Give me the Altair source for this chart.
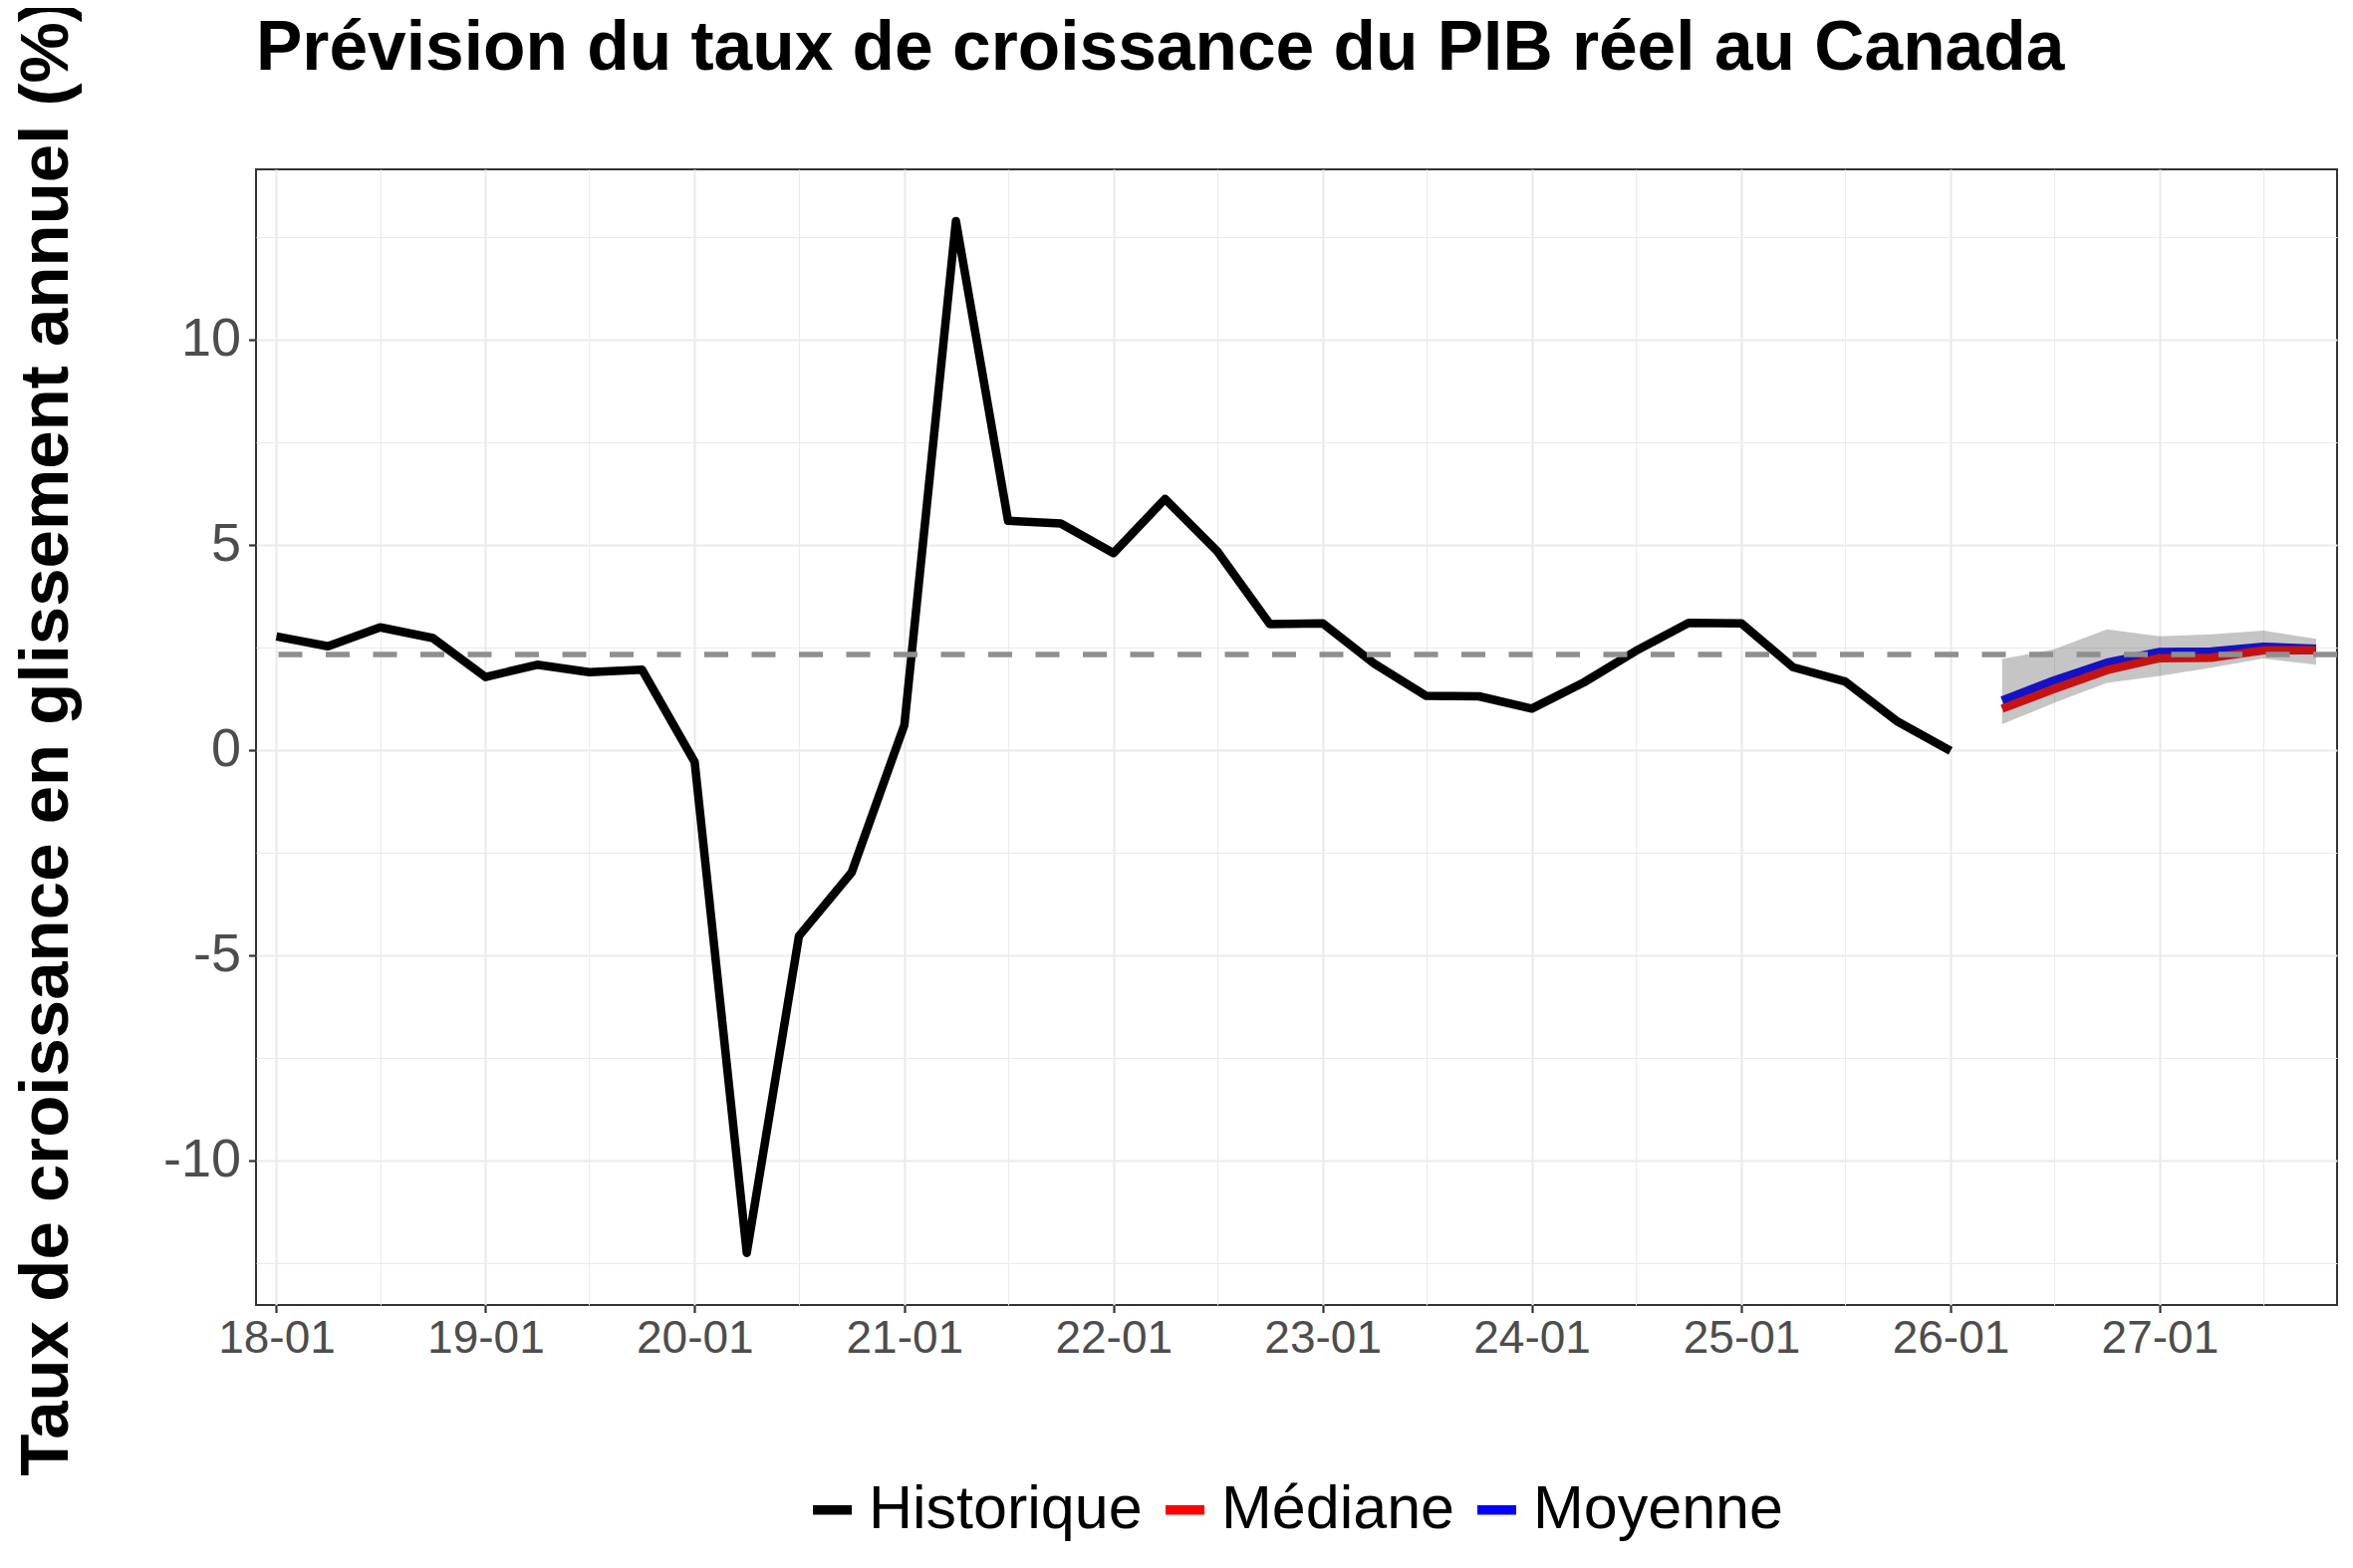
import altair as alt
import pandas as pd

FONT = "Liberation Sans"

# ---------------- data ----------------
hist_dates = [
    "2018-01-01", "2018-04-01", "2018-07-01", "2018-10-01",
    "2019-01-01", "2019-04-01", "2019-07-01", "2019-10-01",
    "2020-01-01", "2020-04-01", "2020-07-01", "2020-10-01",
    "2021-01-01", "2021-04-01", "2021-07-01", "2021-10-01",
    "2022-01-01", "2022-04-01", "2022-07-01", "2022-10-01",
    "2023-01-01", "2023-04-01", "2023-07-01", "2023-10-01",
    "2024-01-01", "2024-04-01", "2024-07-01", "2024-10-01",
    "2025-01-01", "2025-04-01", "2025-07-01", "2025-10-01",
    "2026-01-01",
]
hist_values = [
    2.77, 2.53, 2.99, 2.73,
    1.78, 2.08, 1.90, 1.96,
    -0.29, -12.25, -4.53, -2.98,
    0.61, 12.89, 5.59, 5.52,
    4.80, 6.12, 4.85, 3.07,
    3.09, 2.11, 1.32, 1.31,
    1.01, 1.65, 2.42, 3.10,
    3.09, 2.02, 1.67, 0.69,
    -0.02,
]
fc_dates = ["2026-04-01", "2026-07-01", "2026-10-01", "2027-01-01",
            "2027-04-01", "2027-07-01", "2027-10-01"]
fc_median = [1.01, 1.49, 1.95, 2.24, 2.25, 2.43, 2.43]
fc_mean = [1.21, 1.70, 2.13, 2.39, 2.40, 2.52, 2.47]
fc_lower = [0.63, 1.15, 1.64, 1.81, 2.01, 2.23, 2.08]
fc_upper = [2.22, 2.46, 2.94, 2.77, 2.82, 2.91, 2.71]
ref_level = [2.33]

series_names = ["Historique", "Médiane", "Moyenne"]
series_colors = ["#000000", "#FF0000", "#0000FF"]

x_major_years = [2018, 2019, 2020, 2021, 2022, 2023, 2024, 2025, 2026, 2027]
y_ticks = [-12.5, -10, -7.5, -5, -2.5, 0, 2.5, 5, 7.5, 10, 12.5]

title_text = "Prévision du taux de croissance du PIB réel au Canada"
y_title = "Taux de croissance en glissement annuel (%)"

# ---------------- tables ----------------
lines_df = pd.concat([
    pd.DataFrame({"date": hist_dates, "value": hist_values, "serie": series_names[0]}),
    pd.DataFrame({"date": fc_dates, "value": fc_median, "serie": series_names[1]}),
    pd.DataFrame({"date": fc_dates, "value": fc_mean, "serie": series_names[2]}),
], ignore_index=True)
band_df = pd.DataFrame({"date": fc_dates, "lower": fc_lower, "upper": fc_upper})
ref_df = pd.DataFrame({"level": ref_level})

PLOT_W = 2089
PLOT_H = 1140
LINE_W = 8.5

# ---------------- scales / axes ----------------
x_scale = alt.Scale(
    type="utc",
    domain=[
        alt.DateTime(year=2017, month=11, date=26, hours=9, minutes=36, utc=True),
        alt.DateTime(year=2027, month=11, date=6, hours=14, minutes=24, utc=True),
    ],
)
y_scale = alt.Scale(domain=[-13.52, 14.15], nice=False, zero=False)

x_values = []
for yr in x_major_years:
    x_values.append(alt.DateTime(year=yr, month=1, date=1, utc=True))
    x_values.append(alt.DateTime(year=yr, month=7, date=1, utc=True))

x_major_test = "utcmonth(datum.value) === 0"
x_axis = alt.Axis(
    values=x_values,
    labelExpr=f"{x_major_test} ? utcFormat(datum.value, '%y-%m') : ''",
    title=None,
    domain=False,
    grid=True,
    gridColor="#EBEBEB",
    gridWidth={"condition": {"test": x_major_test, "value": 2.2}, "value": 1.1},
    tickOpacity={"condition": {"test": x_major_test, "value": 1}, "value": 0},
    tickColor="#333333",
    tickWidth=2.2,
    tickSize=7.5,
    labelFont=FONT,
    labelFontSize=46,
    labelColor="#4D4D4D",
    labelPadding=4,
    labelOverlap=False,
    labelFlush=False,
)

y_major_test = "datum.value % 5 === 0"
y_axis = alt.Axis(
    values=y_ticks,
    labelExpr=f"{y_major_test} ? '' + datum.value : ''",
    title=y_title,
    titleFont=FONT,
    titleFontSize=69,
    titleFontWeight="bold",
    titleColor="#000000",
    titleX=-190,
    titleY=PLOT_H / 2,
    titleAngle=270,
    titleAlign="center",
    titleBaseline="alphabetic",
    domain=False,
    grid=True,
    gridColor="#EBEBEB",
    gridWidth={"condition": {"test": y_major_test, "value": 2.2}, "value": 1.1},
    tickOpacity={"condition": {"test": y_major_test, "value": 1}, "value": 0},
    tickColor="#333333",
    tickWidth=2.2,
    tickSize=7.5,
    labelFont=FONT,
    labelFontSize=54,
    labelColor="#4D4D4D",
    labelPadding=8,
    labelOverlap=False,
    labelFlush=False,
)

legend = alt.Legend(
    title=None,
    orient="none",
    legendX=548,
    legendY=1315,
    direction="horizontal",
    symbolType="stroke",
    symbolSize=1521,
    symbolStrokeWidth=9.5,
    labelFont=FONT,
    labelFontSize=61,
    labelColor="#000000",
    labelOffset=6,
    columnPadding=4,
    labelLimit=800,
    padding=0,
)

color_enc = alt.Color("serie:N",
                      scale=alt.Scale(domain=series_names, range=series_colors),
                      legend=legend)

X = alt.X("date:T", scale=x_scale, axis=x_axis)
Y = alt.Y("value:Q", scale=y_scale, axis=y_axis)


def line_layer(name):
    return (
        alt.Chart(lines_df)
        .transform_filter(alt.datum.serie == name)
        .mark_line(strokeWidth=LINE_W, strokeJoin="round", strokeCap="butt")
        .encode(x=X, y=Y, color=color_enc)
    )


hist_line = line_layer("Historique")
mean_line = line_layer("Moyenne")
med_line = line_layer("Médiane")

ribbon = (
    alt.Chart(band_df)
    .mark_area(color="#404040", opacity=0.3)
    .encode(
        x=alt.X("date:T", scale=x_scale),
        y=alt.Y("lower:Q", scale=y_scale),
        y2="upper:Q",
    )
)

ref_rule = (
    alt.Chart(ref_df)
    .mark_rule(color="#8F8F8F", strokeWidth=5.3, strokeDash=[24, 23.5])
    .encode(y=alt.Y("level:Q", scale=y_scale))
)

chart = (
    alt.layer(hist_line, mean_line, med_line, ribbon, ref_rule)
    .properties(
        width=PLOT_W,
        height=PLOT_H,
        autosize=alt.AutoSizeParams(type="none"),
        padding={"left": 249, "top": 162, "right": 8, "bottom": 250},
        title=alt.TitleParams(
            text=title_text,
            anchor="start",
            frame="group",
            font=FONT,
            fontSize=69.5,
            fontWeight="bold",
            color="#000000",
            offset=0,
            dy=86,
        ),
    )
    .configure(background="white")
    .configure_view(stroke="#333333", strokeWidth=2, fill="white")
)

chart.save("out.html", embed_options={"renderer": "svg", "actions": False})
